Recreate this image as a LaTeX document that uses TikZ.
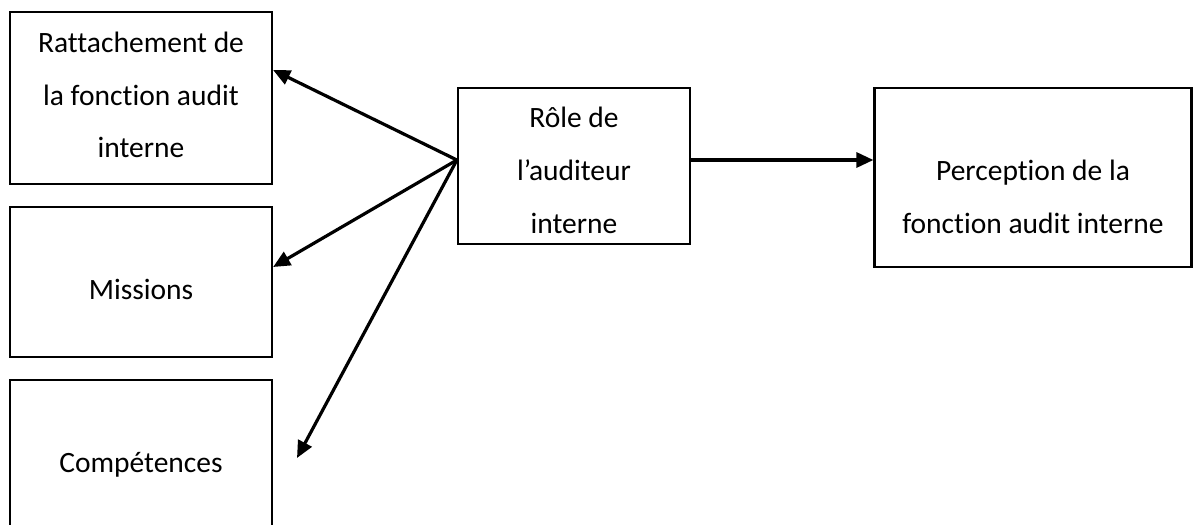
\documentclass[tikz,border=0pt]{standalone}
\usepackage{fontspec}
\setmainfont{Carlito}[Ligatures=NoCommon]
\usetikzlibrary{arrows.meta}
\begin{document}
\begin{tikzpicture}[x=1pt,y=-1pt,
  box/.style={draw,line width=2.2pt,rectangle,inner sep=0pt,minimum width=#1},
  txt/.style={anchor=base,inner sep=0pt,font=\fontsize{29.5}{35}\selectfont},
  link/.style={line width=3.2pt,-{Triangle[length=17pt,width=15pt]}}]
\useasboundingbox (0,0) rectangle (1195,525);
\clip (0,0) rectangle (1195,525);
% boxes
\node[box=262pt,minimum height=172pt] (r1) at (141,98) {};
\node[box=262pt,minimum height=150pt] (r2) at (141,282) {};
\node[box=262pt,minimum height=170pt] (r3) at (141,465) {};
\node[box=232pt,minimum height=156pt] (role) at (574,166) {};
\node[box=317pt,minimum height=179pt] (perc) at (1033,177.5) {};
% texts
\node[txt] (t1a) at (141,52) {Rattachement de};
\node[txt] (t1b) at (141,105) {la fonction audit};
\node[txt] (t1c) at (141,157) {interne};
\node[txt] (t2) at (141,299) {Missions};
\node[txt] (t3) at (141,472) {Compétences};
\node[txt] (t4a) at (574,127) {Rôle de};
\node[txt] (t4b) at (574,180) {l’auditeur};
\node[txt] (t4c) at (574,233) {interne};
\node[txt] (t5a) at (1033,180) {Perception de la};
\node[txt] (t5b) at (1033,233) {fonction audit interne};
% connectors
\coordinate (src) at ([yshift=6pt]role.west);
\coordinate (tip3) at (297,458);
\draw[link] (src) -- ([yshift=28pt]r1.east);
\draw[link] (src) -- ([yshift=15pt]r2.east);
\draw[link] (src) -- (tip3);
\draw[link] ([yshift=6pt]role.east) -- ([yshift=17.5pt]perc.west);
\end{tikzpicture}
\end{document}
